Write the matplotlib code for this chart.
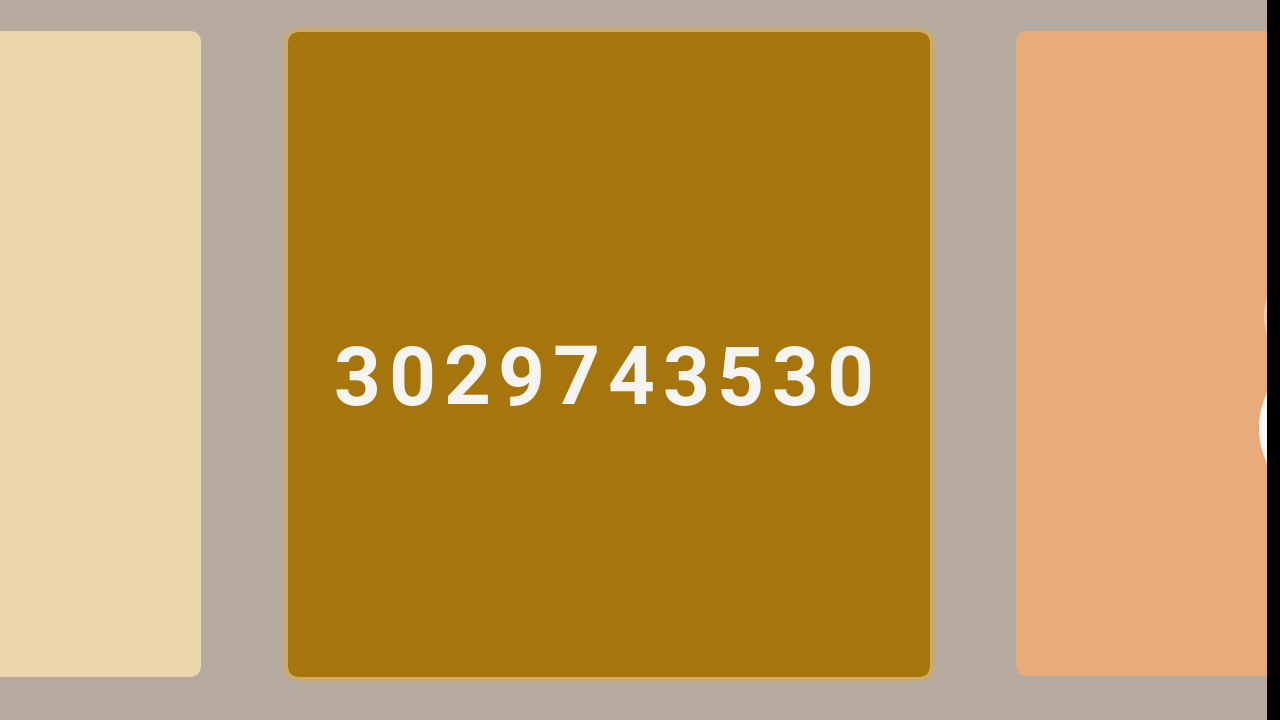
import matplotlib
matplotlib.use("Agg")
import matplotlib.pyplot as plt
from matplotlib.patches import FancyBboxPatch, Circle, Rectangle

# Data: cards in the carousel
card_labels = ["", "3029743530", ""]
card_colors = ["#ecd7ad", "#a6760c", "#e8ab7a"]
card_left = [-60, 288, 1016]
card_right = [201, 930, 1330]
card_top = [31, 32, 31]
card_bottom = [677, 677, 676]
selected = [False, True, False]

bg_color = "#b6aa9f"
letter_pitch = 54.8  # px between digit centres (label letter spacing)

fig = plt.figure(figsize=(12.8, 7.2), dpi=100)
fig.patch.set_facecolor(bg_color)
ax = fig.add_axes([0, 0, 1, 1])
ax.set_xlim(0, 1280)
ax.set_ylim(720, 0)
ax.axis("off")
ax.set_facecolor(bg_color)

for lab, col, x0, x1, y0, y1, sel in zip(card_labels, card_colors, card_left,
                                         card_right, card_top, card_bottom, selected):
    if sel:
        # soft glow border around the selected card
        for lw, a in [(9, 0.15), (6, 0.3), (3.5, 0.8)]:
            glow = FancyBboxPatch((x0, y0), x1 - x0, y1 - y0,
                                  boxstyle="round,pad=0,rounding_size=12",
                                  facecolor="none", edgecolor="#d4ad55",
                                  linewidth=lw, alpha=a, zorder=2)
            ax.add_patch(glow)
    p = FancyBboxPatch((x0, y0), x1 - x0, y1 - y0,
                       boxstyle="round,pad=0,rounding_size=12",
                       facecolor=col, edgecolor="none", zorder=3)
    ax.add_patch(p)
    if lab:
        cx = (x0 + x1) / 2 - 5.5
        n = len(lab)
        for i, ch in enumerate(lab):
            ax.text(cx + (i - (n - 1) / 2) * letter_pitch, 404.5, ch,
                    ha="center", va="baseline",
                    fontsize=59, fontweight="bold", family=["Roboto", "DejaVu Sans"],
                    color="#f6f4f0", zorder=4)

# partially visible navigation buttons at the right edge
ax.add_patch(Circle((1340, 428), 81, facecolor="#fbf8f4", edgecolor="none", zorder=5))
ax.add_patch(Circle((1330, 316), 66, facecolor="#f3e2d2", edgecolor="none", alpha=0.6, zorder=5))

# black strip at the right edge
ax.add_patch(Rectangle((1267, 0), 20, 720, facecolor="black", edgecolor="none", zorder=6))

fig.savefig("out.png", dpi=100, facecolor=bg_color)
